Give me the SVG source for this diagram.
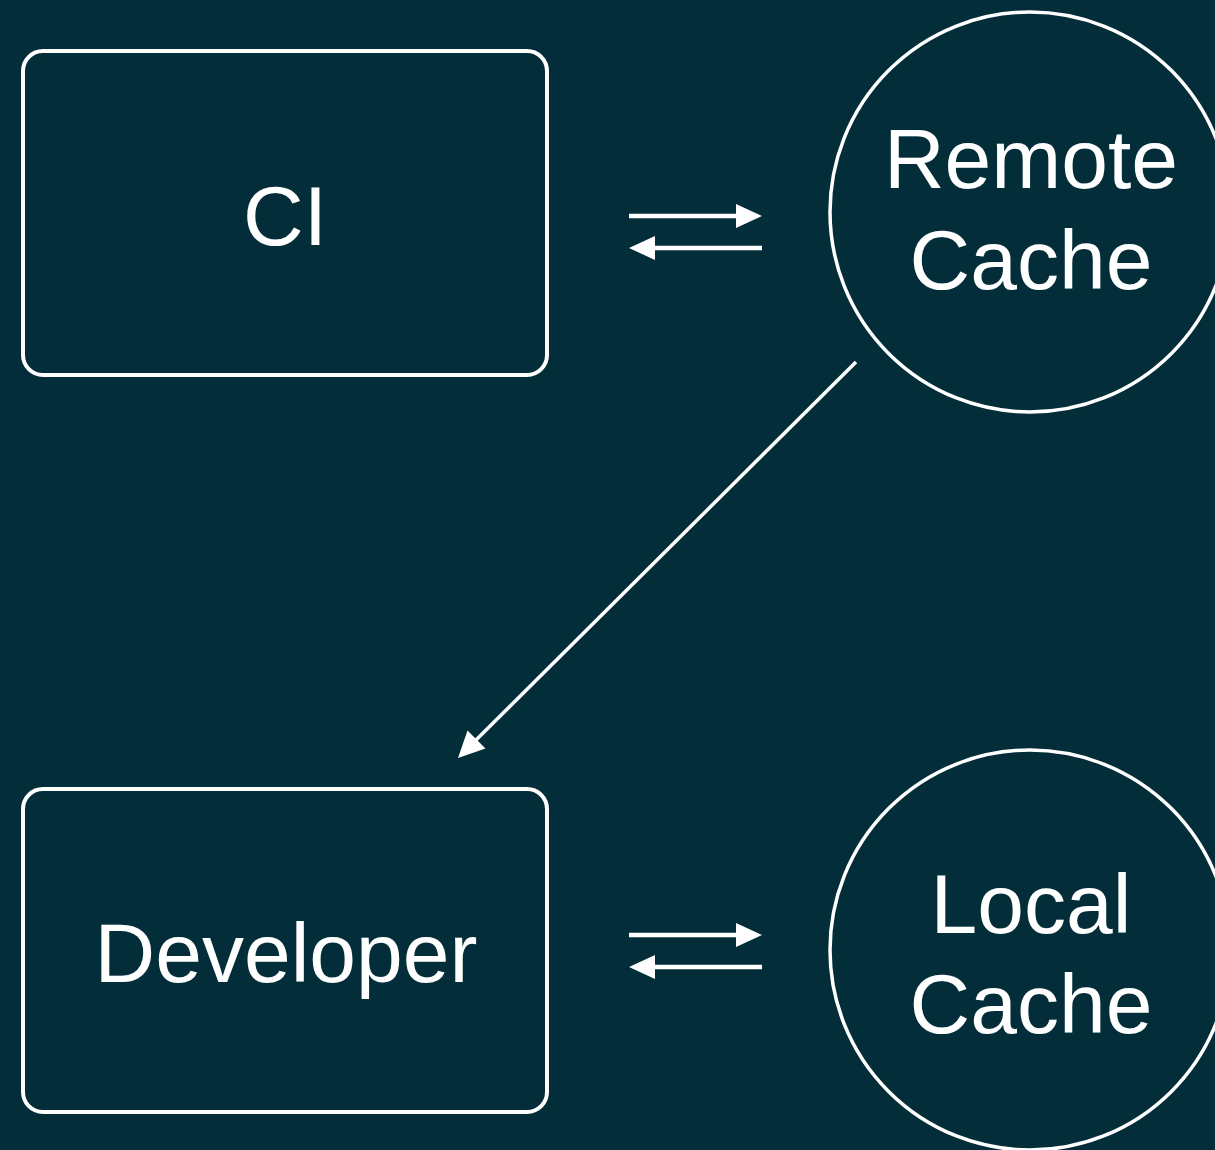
<svg xmlns="http://www.w3.org/2000/svg" width="1215" height="1150" viewBox="0 0 1215 1150">
<defs>
<style>
.box{fill:none;stroke:#ffffff;stroke-width:4}
.circ{fill:none;stroke:#ffffff;stroke-width:3.5}
.lbl{fill:#ffffff;font-family:"Liberation Sans",Arial,Helvetica,sans-serif;font-size:84px;text-anchor:middle}
.edge{stroke:#ffffff;stroke-width:4.5;fill:none}
.diag{stroke:#ffffff;stroke-width:3.5;fill:none}
.head{fill:#ffffff;stroke:none}
</style>
</defs>
<rect x="0" y="0" width="1215" height="1150" fill="#032e39"/>
<g id="ci">
<rect class="box" x="23" y="51" width="524" height="324" rx="20" ry="20"/>
<text class="lbl" x="285" y="245">CI</text>
</g>
<g id="developer">
<rect class="box" x="23" y="789" width="524" height="323" rx="20" ry="20"/>
<text class="lbl" x="286" y="982">Developer</text>
</g>
<g id="remote-cache">
<circle class="circ" cx="1030" cy="212" r="200"/>
<text class="lbl" x="1031" y="188">Remote</text>
<text class="lbl" x="1031" y="289">Cache</text>
</g>
<g id="local-cache">
<circle class="circ" cx="1030" cy="950" r="200"/>
<text class="lbl" x="1031" y="933">Local</text>
<text class="lbl" x="1031" y="1033">Cache</text>
</g>
<g id="connectors">
<line class="edge" x1="629" y1="216" x2="738" y2="216"/>
<path class="head" d="M736,204 L762,216 L736,228 Z"/>
<line class="edge" x1="762" y1="248" x2="653" y2="248"/>
<path class="head" d="M655,236 L629,248 L655,260 Z"/>
<line class="edge" x1="629" y1="935" x2="738" y2="935"/>
<path class="head" d="M736,923 L762,935 L736,947 Z"/>
<line class="edge" x1="762" y1="967" x2="653" y2="967"/>
<path class="head" d="M655,955 L629,967 L655,979 Z"/>
<line class="diag" x1="856" y1="362" x2="475" y2="741"/>
<path class="head" d="M458,758 L485.5,748.5 L467.5,730.5 Z"/>
</g>
</svg>
